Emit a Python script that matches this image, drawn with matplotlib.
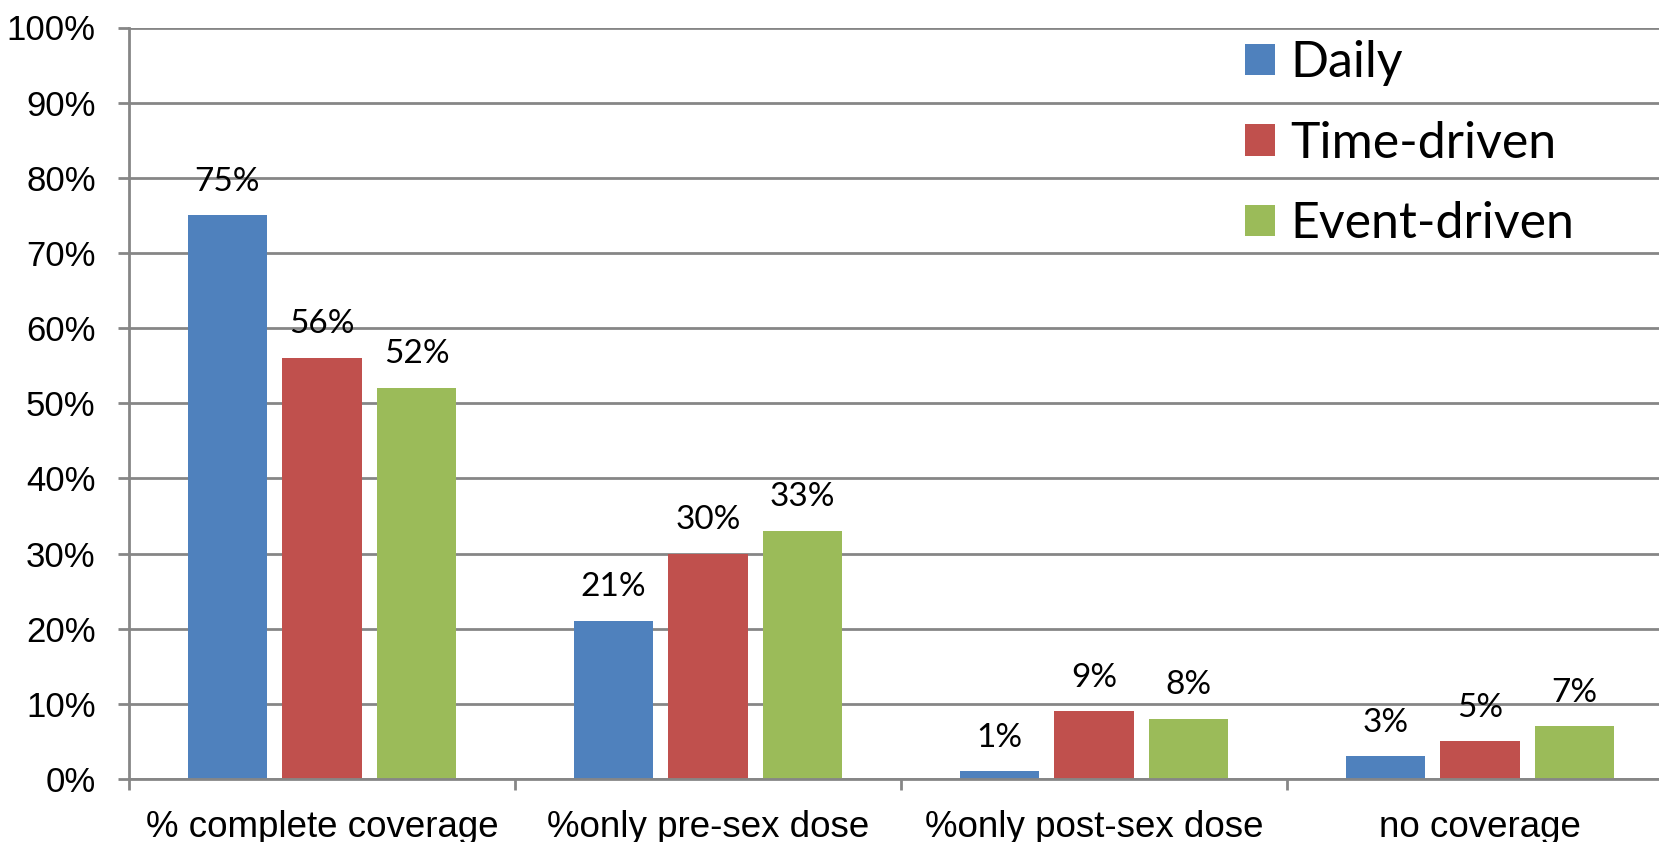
import matplotlib
matplotlib.use("Agg")
import matplotlib.pyplot as plt
from matplotlib.patches import Patch
import numpy as np

categories = ["% complete coverage", "%only pre-sex dose", "%only post-sex dose", "no coverage"]
series_names = ["Daily", "Time-driven", "Event-driven"]
daily = [75, 21, 1, 3]
time_driven = [56, 30, 9, 5]
event_driven = [52, 33, 8, 7]
colors = ["#4F81BD", "#C0504D", "#9BBB59"]
y_ticks = [0, 10, 20, 30, 40, 50, 60, 70, 80, 90, 100]

grid_color = "#868686"
label_font = ["Lato", "DejaVu Sans"]
axis_font = ["Liberation Sans", "DejaVu Sans"]

fig = plt.figure(figsize=(16.59, 8.42), dpi=100)
ax = fig.add_axes([129 / 1659, 63 / 842, (1673 - 129) / 1659, (779 - 27.5) / 842])

x = np.arange(len(categories))
bar_w = 0.205
step = 0.245
for i, (vals, name, col) in enumerate(zip([daily, time_driven, event_driven], series_names, colors)):
    xs = x + (i - 1) * step
    ax.bar(xs, vals, width=bar_w, color=col, zorder=3, label=name)
    for xi, v in zip(xs, vals):
        ax.text(xi, v + 2.5, f"{v}%", ha="center", va="bottom", fontsize=24,
                family=label_font, color="black", zorder=4)

ax.set_xlim(-0.5, len(categories) - 0.5)
ax.set_ylim(0, 100)
ax.set_yticks(y_ticks)
ax.set_yticklabels([f"{t}%" for t in y_ticks], family=axis_font, fontsize=25)
ax.yaxis.grid(True, color=grid_color, linewidth=2, zorder=0)

# category tick marks sit on the group boundaries; labels in the middle
ax.set_xticks(np.arange(len(categories) + 1) - 0.5)
ax.set_xticklabels([])
ax.set_xticks(x, minor=True)
ax.set_xticklabels(categories, minor=True, family=axis_font, fontsize=26.5)
ax.tick_params(axis="x", which="minor", length=0, pad=22)
ax.tick_params(axis="x", which="major", length=8, width=2, color=grid_color, direction="out")
ax.tick_params(axis="y", length=8, width=2, color=grid_color, pad=16)

for side in ["top", "right"]:
    ax.spines[side].set_visible(False)
for side in ["left", "bottom"]:
    ax.spines[side].set_color(grid_color)
    ax.spines[side].set_linewidth(2)
    ax.spines[side].set_zorder(5)

handles = [Patch(facecolor=c, edgecolor="none") for c in colors]
fig.legend(handles, series_names, loc="upper left", bbox_to_anchor=(1245 / 1659, 1 - 40 / 842),
           frameon=False, prop={"family": label_font, "size": 36},
           handlelength=0.6, handleheight=0.6, handletextpad=0.3, labelspacing=0.69,
           borderpad=0, borderaxespad=0)

fig.savefig("out.png", dpi=100, facecolor="white")
